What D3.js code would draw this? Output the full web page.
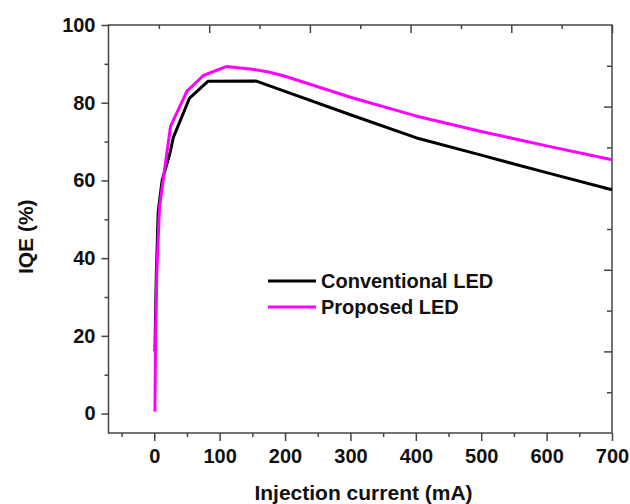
<!DOCTYPE html>
<html>
<head>
<meta charset="utf-8">
<script src="https://cdn.jsdelivr.net/npm/d3@7"></script>
<style>
  body { margin: 0; background: #fff; }
  .axis text { font-family: Arial, "Liberation Sans", sans-serif; font-weight: bold; font-size: 20px; fill: #111; }
  .axis line { stroke: #444; stroke-width: 1.5; }
  .axis path { display: none; }
  .title { font-family: Arial, "Liberation Sans", sans-serif; font-weight: bold; font-size: 21px; fill: #111; }
  .legend text { font-family: Arial, "Liberation Sans", sans-serif; font-weight: bold; font-size: 20px; fill: #111; }
</style>
</head>
<body>
<div id="chart-area"></div>
<script>
// IQE vs injection current
var seriesNames = ["Conventional LED", "Proposed LED"];
var seriesColors = ["#000000", "#ff00ff"];

var currentConv = [1, 3, 6, 12, 24, 29, 54, 82, 155, 200, 300, 400, 500, 600, 700];
var iqeConv     = [16, 35, 52, 60, 67, 71, 81.2, 85.5, 85.6, 82.9, 76.9, 71, 66.5, 62, 57.6];

var currentProp = [1, 2, 4, 8, 15, 25, 50, 75, 110, 150, 175, 200, 250, 300, 400, 500, 600, 700];
var iqeProp     = [0.5, 20, 37, 53, 62, 74, 83, 87, 89.3, 88.6, 87.9, 86.8, 84.1, 81.4, 76.6, 72.6, 68.9, 65.3];

var xMajorTicks = [0, 100, 200, 300, 400, 500, 600, 700];
var xMinorTicks = [-50, 50, 150, 250, 350, 450, 550, 650];
var yMajorTicks = [0, 20, 40, 60, 80, 100];
var yMinorTicks = [10, 30, 50, 70, 90];

LineChart = function(_parentElement) {
  this.parentElement = _parentElement;
  this.initVis();
};

LineChart.prototype.initVis = function() {
  var vis = this;

  vis.margin = { top: 25, right: 18, bottom: 71, left: 108.5 };
  vis.width = 630 - vis.margin.left - vis.margin.right;
  vis.height = 504 - vis.margin.top - vis.margin.bottom;

  vis.svg = d3.select("#" + vis.parentElement).append("svg")
    .attr("width", 630)
    .attr("height", 504)
    .append("g")
    .attr("transform", "translate(" + vis.margin.left + "," + vis.margin.top + ")");

  vis.x = d3.scaleLinear().domain([-70, 700]).range([0, vis.width]);
  vis.y = d3.scaleLinear().domain([-5, 100]).range([vis.height, 0]);

  // the mirrored top / right axes in the original don't line up with the data axes
  vis.xTop = d3.scaleLinear().domain([-1, 4]).range([0, vis.width]);
  vis.yRight = d3.scaleLinear().domain([0, 5]).range([0, vis.height]);

  vis.line = d3.line()
    .x(function(d) { return vis.x(d.current); })
    .y(function(d) { return vis.y(d.iqe); });

  vis.wrangleData();
};

LineChart.prototype.wrangleData = function() {
  var vis = this;

  vis.displayData = [
    { name: seriesNames[0], color: seriesColors[0],
      values: currentConv.map(function(c, i) { return { current: c, iqe: iqeConv[i] }; }) },
    { name: seriesNames[1], color: seriesColors[1],
      values: currentProp.map(function(c, i) { return { current: c, iqe: iqeProp[i] }; }) }
  ];

  vis.updateVis();
};

LineChart.prototype.updateVis = function() {
  var vis = this;

  // frame
  vis.svg.append("rect")
    .attr("width", vis.width)
    .attr("height", vis.height)
    .attr("fill", "none")
    .attr("stroke", "#444")
    .attr("stroke-width", 1.5);

  // bottom axis
  vis.svg.append("g").attr("class", "axis")
    .attr("transform", "translate(0," + vis.height + ")")
    .call(d3.axisBottom(vis.x).tickValues(xMajorTicks).tickSize(8).tickPadding(8).tickFormat(d3.format("d")));
  vis.svg.append("g").attr("class", "axis")
    .attr("transform", "translate(0," + vis.height + ")")
    .call(d3.axisBottom(vis.x).tickValues(xMinorTicks).tickSize(4).tickFormat(""));

  // left axis
  vis.svg.append("g").attr("class", "axis")
    .call(d3.axisLeft(vis.y).tickValues(yMajorTicks).tickSize(7).tickPadding(6).tickFormat(d3.format("d")));
  vis.svg.append("g").attr("class", "axis")
    .call(d3.axisLeft(vis.y).tickValues(yMinorTicks).tickSize(4).tickFormat(""));

  // top axis, ticks inward
  vis.svg.append("g").attr("class", "axis")
    .call(d3.axisTop(vis.xTop).tickValues([0, 1, 2, 3, 4]).tickSize(-8).tickFormat(""));
  vis.svg.append("g").attr("class", "axis")
    .call(d3.axisTop(vis.xTop).tickValues([-0.5, 0.5, 1.5, 2.5, 3.5]).tickSize(-4).tickFormat(""));

  // right axis, ticks inward
  vis.svg.append("g").attr("class", "axis")
    .attr("transform", "translate(" + vis.width + ",0)")
    .call(d3.axisRight(vis.yRight).tickValues([1, 2, 3, 4]).tickSize(-8).tickFormat(""));
  vis.svg.append("g").attr("class", "axis")
    .attr("transform", "translate(" + vis.width + ",0)")
    .call(d3.axisRight(vis.yRight).tickValues([0.5, 1.5, 2.5, 3.5, 4.5]).tickSize(-5).tickFormat(""));

  // lines
  vis.svg.selectAll(".series")
    .data(vis.displayData)
    .enter().append("path")
    .attr("class", "series")
    .attr("fill", "none")
    .attr("stroke", function(d) { return d.color; })
    .attr("stroke-width", 3)
    .attr("stroke-linejoin", "round")
    .attr("d", function(d) { return vis.line(d.values); });

  // axis titles
  vis.svg.append("text")
    .attr("class", "title")
    .attr("x", vis.x(320))
    .attr("y", vis.height + 67)
    .attr("text-anchor", "middle")
    .text("Injection current (mA)");

  vis.svg.append("text")
    .attr("class", "title")
    .attr("transform", "translate(-76," + vis.y(45.5) + ") rotate(-90)")
    .attr("text-anchor", "middle")
    .text("IQE (%)");

  // legend
  var legend = vis.svg.append("g")
    .attr("class", "legend")
    .attr("transform", "translate(159.5,256)");

  var items = legend.selectAll(".item")
    .data(vis.displayData)
    .enter().append("g")
    .attr("transform", function(d, i) { return "translate(0," + (i * 26) + ")"; });

  items.append("line")
    .attr("x1", 0).attr("x2", 48)
    .attr("stroke", function(d) { return d.color; })
    .attr("stroke-width", 3);

  items.append("text")
    .attr("x", 53)
    .attr("dy", "0.36em")
    .text(function(d) { return d.name; });
};

new LineChart("chart-area");
</script>
</body>
</html>
